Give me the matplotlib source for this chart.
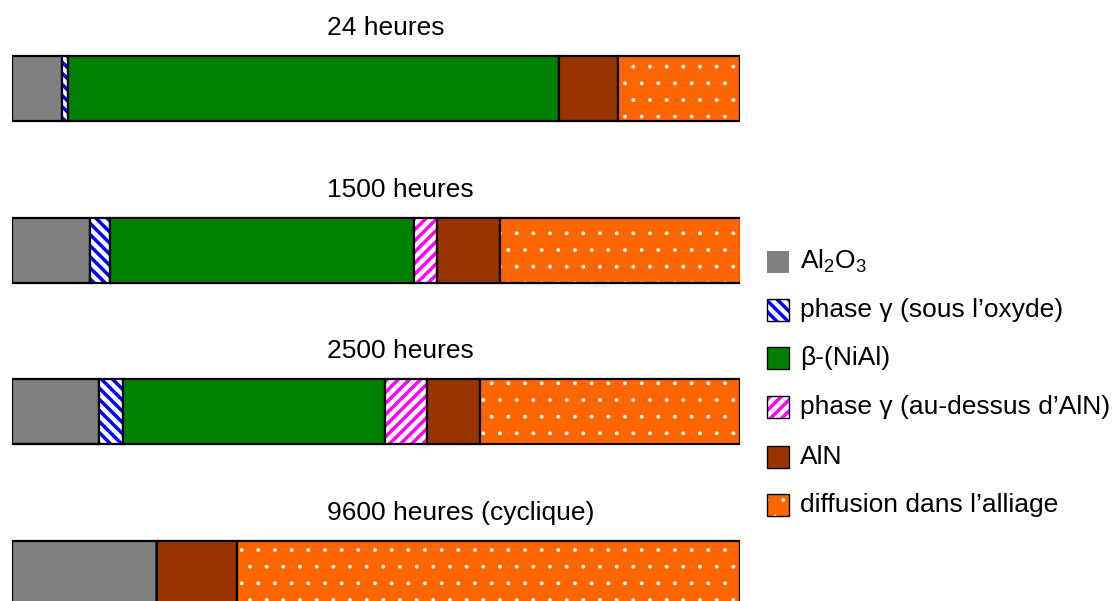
import matplotlib.pyplot as plt
from matplotlib.patches import Rectangle

plt.rcParams['font.family'] = ['Liberation Sans', 'DejaVu Sans']

# durées d'oxydation (une barre par durée)
durees = ['24 heures', '1500 heures', '2500 heures', '9600 heures (cyclique)']

# couches, de la surface vers le coeur
couches = [r'$\mathregular{Al_2O_3}$', 'phase γ (sous l’oxyde)', 'β-(NiAl)',
           'phase γ (au-dessus d’AlN)', 'AlN', 'diffusion dans l’alliage']

# épaisseur relative de chaque couche (% de la profondeur observée)
al2o3 = [6.9, 10.7, 12.0, 19.9]
gamma_oxyde = [0.8, 2.7, 3.2, 0]
beta_nial = [67.4, 41.8, 36.0, 0]
gamma_aln = [0, 3.2, 5.8, 0]
aln = [8.1, 8.7, 7.3, 11.0]
diffusion = [16.8, 33.0, 35.7, 69.1]

epaisseurs = [al2o3, gamma_oxyde, beta_nial, gamma_aln, aln, diffusion]

# (fond, motif, couleur du motif, épaisseur du motif)
styles = [
    ('#808080', None, '#808080', 1.0),
    ('white', '\\\\\\', '#0000FF', 2.5),
    ('#008000', None, '#008000', 1.0),
    ('white', '///', '#FF00FF', 2.5),
    ('#993300', None, '#993300', 1.0),
    ('#FF6600', '.', 'white', 0.3),
]

W, H = 1117, 601
fig = plt.figure(figsize=(W / 100, H / 100), dpi=100)
ax = fig.add_axes([12 / W, 0, 728 / W, 1])
ax.set_xlim(0, 100)
ax.set_ylim(3.173, -0.548)
ax.axis('off')

hauteur = 0.4025
pos = list(range(len(durees)))
gauche = [0.0] * len(durees)
for vals, (fc, motif, mc, hlw) in zip(epaisseurs, styles):
    with plt.rc_context({'hatch.linewidth': hlw}):
        ax.barh(pos, vals, left=gauche, height=hauteur, color=fc,
                edgecolor=mc, linewidth=0, hatch=motif)
    ax.barh(pos, vals, left=gauche, height=hauteur, fill=False,
            edgecolor='black', linewidth=1.6)
    gauche = [g + v for g, v in zip(gauche, vals)]

for i, titre in enumerate(durees):
    ax.text(43.3, i - hauteur / 2 - 0.13, titre, fontsize=19,
            ha='left', va='baseline')

# légende
centres = [261.5, 310, 358, 407, 456.5, 505]
cote = 22
for (fc, motif, mc, hlw), nom, yc, k in zip(styles, couches, centres, range(6)):
    x0 = 767 / W
    y0 = 1 - (yc + cote / 2) / H
    with plt.rc_context({'hatch.linewidth': hlw}):
        fig.add_artist(Rectangle((x0, y0), cote / W, cote / H,
                                 transform=fig.transFigure, facecolor=fc,
                                 edgecolor=mc, linewidth=0, hatch=motif))
    if k > 0:
        fig.add_artist(Rectangle((x0, y0), cote / W, cote / H,
                                 transform=fig.transFigure, fill=False,
                                 edgecolor='black', linewidth=1.0))
    fig.text(800 / W, 1 - yc / H, nom, fontsize=19, ha='left', va='center')

fig.savefig('out.png', dpi=100)
